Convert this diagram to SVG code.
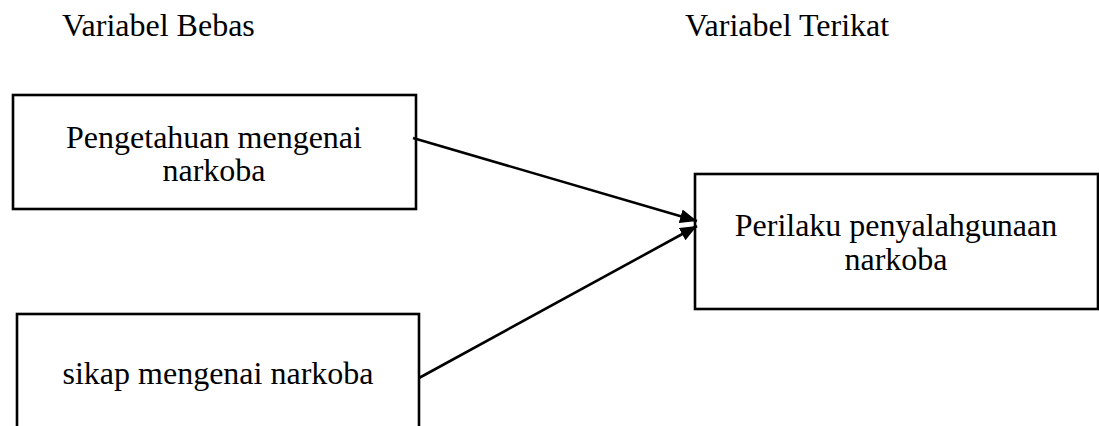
<svg xmlns="http://www.w3.org/2000/svg" width="1099" height="426" viewBox="0 0 1099 426">
<style>
text{font-family:"Liberation Serif","Times New Roman",serif;font-size:32px;fill:#000}
.c{text-anchor:middle}
.box{fill:#fff;stroke:#000;stroke-width:2.6}
.con{stroke:#000;stroke-width:2.6;fill:none}
</style>
<defs>
<marker id="ah" viewBox="0 0 17 14" refX="17" refY="7" markerWidth="17" markerHeight="14" markerUnits="userSpaceOnUse" orient="auto">
<path d="M0,0 L17,7 L0,14 Z" fill="#000"/>
</marker>
</defs>
<rect width="1099" height="426" fill="#fff"/>
<text x="62" y="36">Variabel Bebas</text>
<text x="685" y="36">Variabel Terikat</text>
<g id="n1">
<rect class="box" x="13" y="95" width="403" height="114"/>
<text class="c" x="214" y="148">Pengetahuan mengenai</text>
<text class="c" x="214" y="181">narkoba</text>
</g>
<g id="n2">
<rect class="box" x="17" y="314" width="402" height="130"/>
<text class="c" x="218" y="384">sikap mengenai narkoba</text>
</g>
<g id="n3">
<rect class="box" x="695" y="174" width="403" height="135"/>
<text class="c" x="896" y="236">Perilaku penyalahgunaan</text>
<text class="c" x="896" y="270">narkoba</text>
</g>
<g id="connectors">
<line class="con" x1="413" y1="138" x2="697" y2="221" marker-end="url(#ah)"/>
<line class="con" x1="419" y1="378" x2="697" y2="226" marker-end="url(#ah)"/>
</g>
</svg>
